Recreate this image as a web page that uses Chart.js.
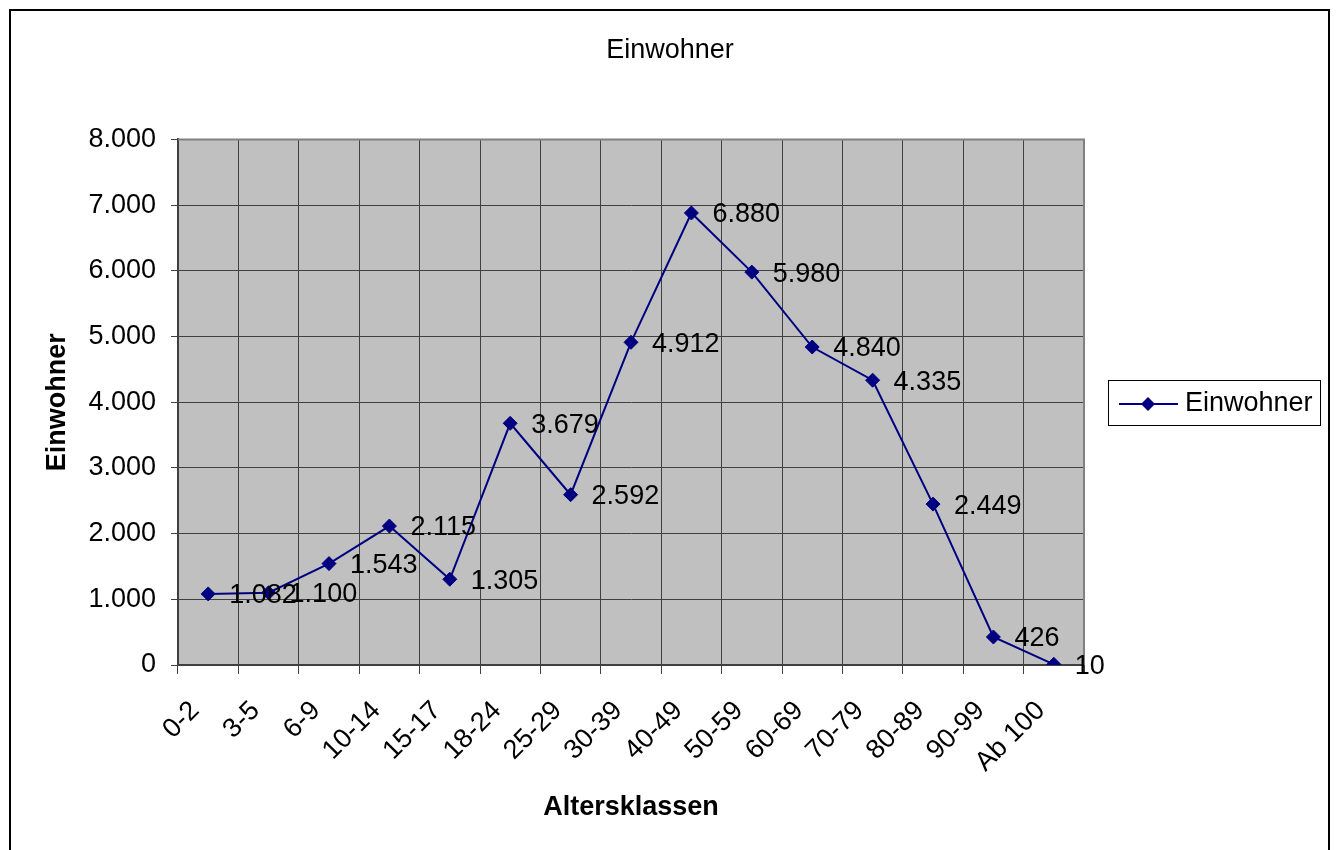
<!DOCTYPE html>
<html lang="de">
<head>
<meta charset="utf-8">
<title>Einwohner</title>
<script src="https://cdn.jsdelivr.net/npm/chart.js@4"></script>
<style>
  html, body { margin: 0; padding: 0; background: #fff; }
  #wrap { width: 1336px; height: 850px; }
</style>
</head>
<body>
<div id="wrap"><canvas id="chart" width="1336" height="850"></canvas></div>
<script>
const altersklassen = ["0-2", "3-5", "6-9", "10-14", "15-17", "18-24", "25-29", "30-39", "40-49", "50-59", "60-69", "70-79", "80-89", "90-99", "Ab 100"];
const einwohner = [1082, 1100, 1543, 2115, 1305, 3679, 2592, 4912, 6880, 5980, 4840, 4335, 2449, 426, 10];
const yTicks = [0, 1000, 2000, 3000, 4000, 5000, 6000, 7000, 8000];

const FONT = "'Liberation Sans', Arial, sans-serif";
const NAVY = "#000080";

function fmt(v) { return String(v).replace(/\B(?=(\d{3})+(?!\d))/g, "."); }

// plot background, gray frame, value labels, legend box and outer border
const excelLook = {
  id: "excelLook",
  afterLayout(chart) {
    // title is centred on the whole frame, not only on the plot column
    if (chart.titleBlock) { chart.titleBlock.left = 10; chart.titleBlock.right = 1330; chart.titleBlock.width = 1320; }
  },
  beforeDraw(chart) {
    const { ctx, chartArea: a } = chart;
    ctx.save();
    ctx.fillStyle = "#fff";
    ctx.fillRect(0, 0, chart.width, chart.height);
    ctx.fillStyle = "#c0c0c0";
    ctx.fillRect(a.left, a.top, a.right - a.left, a.bottom - a.top);
    ctx.restore();
  },
  beforeDatasetsDraw(chart) {
    const { ctx, chartArea: a } = chart;
    ctx.save();
    ctx.strokeStyle = "#808080";
    ctx.lineWidth = 2;
    ctx.beginPath();
    ctx.moveTo(a.left, a.top);
    ctx.lineTo(a.right, a.top);
    ctx.lineTo(a.right, a.bottom);
    ctx.stroke();
    ctx.restore();
  },
  afterDatasetsDraw(chart) {
    const { ctx } = chart;
    const meta = chart.getDatasetMeta(0);
    ctx.save();
    ctx.font = "27px " + FONT;
    ctx.fillStyle = "#000";
    ctx.textAlign = "left";
    ctx.textBaseline = "middle";
    meta.data.forEach((pt, i) => ctx.fillText(fmt(einwohner[i]), pt.x + 21, pt.y + 2));
    ctx.restore();
  },
  afterDraw(chart) {
    const { ctx } = chart;
    ctx.save();
    // legend
    ctx.fillStyle = "#fff";
    ctx.fillRect(1108, 380, 213, 46);
    ctx.strokeStyle = "#000";
    ctx.lineWidth = 1;
    ctx.strokeRect(1108.5, 380.5, 212, 45);
    ctx.strokeStyle = NAVY;
    ctx.lineWidth = 2;
    ctx.beginPath();
    ctx.moveTo(1119, 404);
    ctx.lineTo(1178, 404);
    ctx.stroke();
    ctx.fillStyle = NAVY;
    ctx.beginPath();
    ctx.moveTo(1148, 397); ctx.lineTo(1155, 404); ctx.lineTo(1148, 411); ctx.lineTo(1141, 404);
    ctx.closePath();
    ctx.fill();
    ctx.fillStyle = "#000";
    ctx.font = "27px " + FONT;
    ctx.textBaseline = "middle";
    ctx.fillText(chart.data.datasets[0].label, 1185, 404);
    // outer frame
    ctx.strokeStyle = "#000";
    ctx.lineWidth = 2;
    ctx.strokeRect(10, 10, 1319, 870);
    ctx.restore();
  }
};

Chart.defaults.font.family = FONT;
Chart.defaults.color = "#000";

new Chart(document.getElementById("chart"), {
  type: "line",
  data: {
    labels: altersklassen,
    datasets: [{
      label: "Einwohner",
      data: einwohner,
      borderColor: NAVY,
      backgroundColor: NAVY,
      borderWidth: 2,
      tension: 0,
      pointStyle: "rectRot",
      pointRadius: 7,
      pointBorderWidth: 1
    }]
  },
  options: {
    responsive: false,
    animation: false,
    layout: { padding: { left: 0, right: 252, top: 0, bottom: 0 } },
    plugins: {
      legend: { display: false },
      tooltip: { enabled: false },
      title: { display: true, text: "Einwohner", color: "#000", font: { size: 27, weight: "normal" }, padding: { top: 34, bottom: 73 } }
    },
    scales: {
      x: {
        offset: true,
        grid: { offset: true, color: "#404040", lineWidth: 1, tickLength: 9 },
        border: { color: "#404040", width: 2 },
        ticks: { font: { size: 27 }, autoSkip: false, minRotation: 45, maxRotation: 45, padding: 21, labelOffset: -13 },
        title: { display: true, text: "Altersklassen", font: { size: 27, weight: "bold" }, padding: { top: 0, bottom: 26 } },
        afterFit(scale) { scale.height = 185; }
      },
      y: {
        min: 0,
        max: 8000,
        afterBuildTicks(scale) { scale.ticks = yTicks.map(v => ({ value: v })); },
        grid: { color: "#404040", lineWidth: 1, tickLength: 7 },
        border: { color: "#404040", width: 2 },
        ticks: { font: { size: 27 }, padding: 15, callback: v => fmt(v) },
        title: { display: true, text: "Einwohner", font: { size: 27, weight: "bold" }, padding: { top: 41, bottom: 0 } },
        afterFit(scale) { scale.width = 178; }
      }
    }
  },
  plugins: [excelLook]
});
</script>
</body>
</html>
